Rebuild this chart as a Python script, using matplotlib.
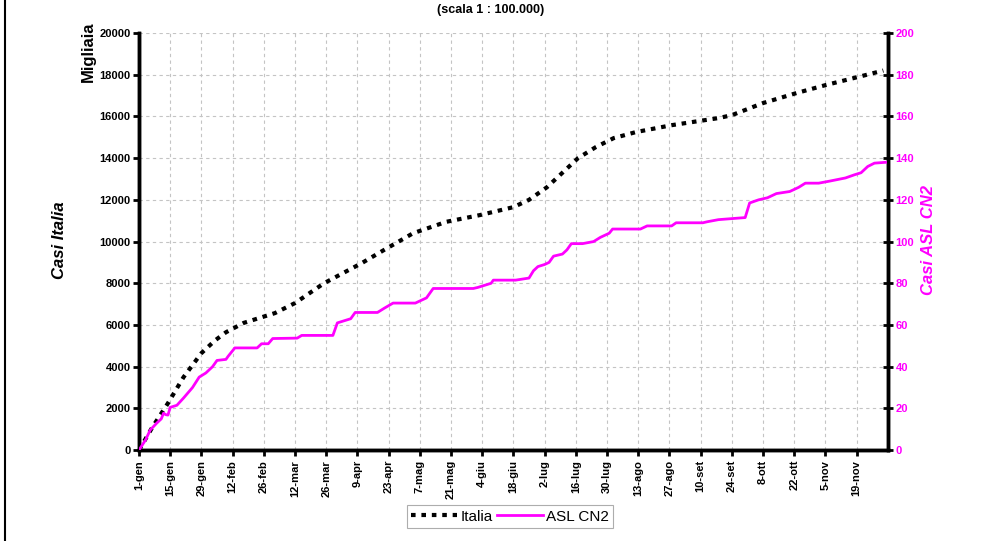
import matplotlib
matplotlib.use("Agg")
from matplotlib import pyplot as plt
from matplotlib.lines import Line2D

plt.rcParams['font.family'] = ['Liberation Sans', 'DejaVu Sans']

# days counted from 1 January
tick_days = [0, 14, 28, 42, 56, 70, 84, 98, 112, 126, 140, 154, 168, 182,
             196, 210, 224, 238, 252, 266, 280, 294, 308, 322]
tick_labels = ["1-gen", "15-gen", "29-gen", "12-feb", "26-feb", "12-mar",
               "26-mar", "9-apr", "23-apr", "7-mag", "21-mag", "4-giu",
               "18-giu", "2-lug", "16-lug", "30-lug", "13-ago", "27-ago",
               "10-set", "24-set", "8-ott", "22-ott", "5-nov", "19-nov"]

italia_day = [0, 6, 13, 20, 28, 34, 39, 47, 61, 70, 83, 100, 110, 123, 138,
              153, 168, 175, 183, 190, 197, 205, 213, 223, 239, 260, 266,
              280, 295, 308, 323, 334]
italia_val = [0, 1100, 2250, 3500, 4650, 5250, 5650, 6100, 6570, 7050, 8000,
              8970, 9600, 10400, 10950, 11270, 11650, 12000, 12600, 13300,
              14000, 14530, 14960, 15250, 15580, 15920, 16060, 16640, 17120,
              17500, 17900, 18200]

asl_day = [0, 3, 5, 8, 10, 11, 12, 13, 14, 17, 20, 24, 27, 30, 33, 35, 39,
           40, 43, 53, 55, 58, 60, 71, 73, 87, 88, 89, 92, 95, 97, 107, 110,
           114, 124, 129, 132, 150, 152, 158, 159, 169, 175, 177, 179, 182,
           184, 186, 190, 192, 194, 199, 204, 207, 211, 212.5, 225, 228, 239,
           241, 253, 255, 260, 272, 273, 274, 278, 282, 286, 292, 296, 299,
           305, 310, 317, 321, 324, 327, 330, 335]
asl_val = [0, 5, 9.6, 13, 15, 17.7, 17, 16.8, 20.5, 21.5, 25, 30, 35, 37, 40,
           43, 43.5, 45, 49, 49, 51, 51, 53.5, 53.7, 55, 55, 58, 61, 62, 63,
           66, 66, 68, 70.5, 70.5, 73, 77.5, 77.5, 78, 80, 81.5, 81.5, 82.5,
           86, 88, 89, 90, 93, 94, 96, 99, 99, 100, 102, 104, 106, 106, 107.5,
           107.5, 109, 109, 109.5, 110.5, 111.5, 115, 118.5, 120, 121, 123,
           124, 126, 128, 128, 129, 130.5, 132, 133, 136, 137.6, 138]

fig = plt.figure(figsize=(9.81, 5.41), dpi=100)
ax = fig.add_axes([0.1417, 0.168, 0.7633, 0.771])
ax2 = ax.twinx()

l1, = ax.plot(italia_day, italia_val, color="black", lw=3,
              linestyle=(0, (1.1, 1.4)), zorder=3)
l2, = ax2.plot(asl_day, asl_val, color="#ff00ff", lw=2, zorder=3)

ax.set_xlim(0, 336)
ax.set_ylim(0, 20000)
ax2.set_ylim(0, 200)
ax.set_yticks(range(0, 20001, 2000))
ax2.set_yticks(range(0, 201, 20))
ax.set_xticks(tick_days)
ax.set_xticklabels(tick_labels, rotation=90, fontsize=8, fontweight="bold")
for t in ax.get_yticklabels():
    t.set_fontsize(8)
    t.set_fontweight("bold")
for t in ax2.get_yticklabels():
    t.set_fontsize(8)
    t.set_fontweight("bold")
    t.set_color("#ff00ff")

ax.grid(True, color="#c4c4c4", linestyle=(0, (3, 3)), linewidth=0.8)
ax.set_axisbelow(True)

for a in (ax, ax2):
    a.spines["top"].set_visible(False)
    a.spines["left"].set_linewidth(2.5)
    a.spines["right"].set_linewidth(2.5)
    a.spines["bottom"].set_linewidth(2.5)
ax.tick_params(axis="y", length=4, width=2, pad=2)
ax.tick_params(axis="x", length=4, width=2, pad=3)
ax2.tick_params(axis="y", direction="inout", length=7, width=2, pad=2)

fig.text(0.5, 0.982, "(scala 1 : 100.000)", ha="center", va="center",
         fontsize=9, fontweight="bold")
fig.text(0.09, 0.905, "Migliaia", rotation=90, ha="center", va="center",
         fontsize=12, fontweight="bold")
fig.text(0.061, 0.556, "Casi Italia", rotation=90, ha="center", va="center",
         fontsize=12, fontweight="bold", style="italic")
fig.text(0.946, 0.556, "Casi ASL CN2", rotation=90, ha="center", va="center",
         fontsize=12, fontweight="bold", style="italic", color="#ff00ff")

leg = fig.legend([l1, l2], ["Italia", "ASL CN2"], loc="center",
                 bbox_to_anchor=(0.52, 0.045), ncol=2, fontsize=11,
                 frameon=True, fancybox=False, handlelength=3,
                 columnspacing=0.3, handletextpad=0.2, borderpad=0.3)
leg.get_frame().set_edgecolor("#999999")
leg.get_frame().set_linewidth(0.8)

fig.add_artist(Line2D([0.005, 0.005], [0, 1], color="black", lw=1.5))

plt.savefig("out.png", dpi=100)
